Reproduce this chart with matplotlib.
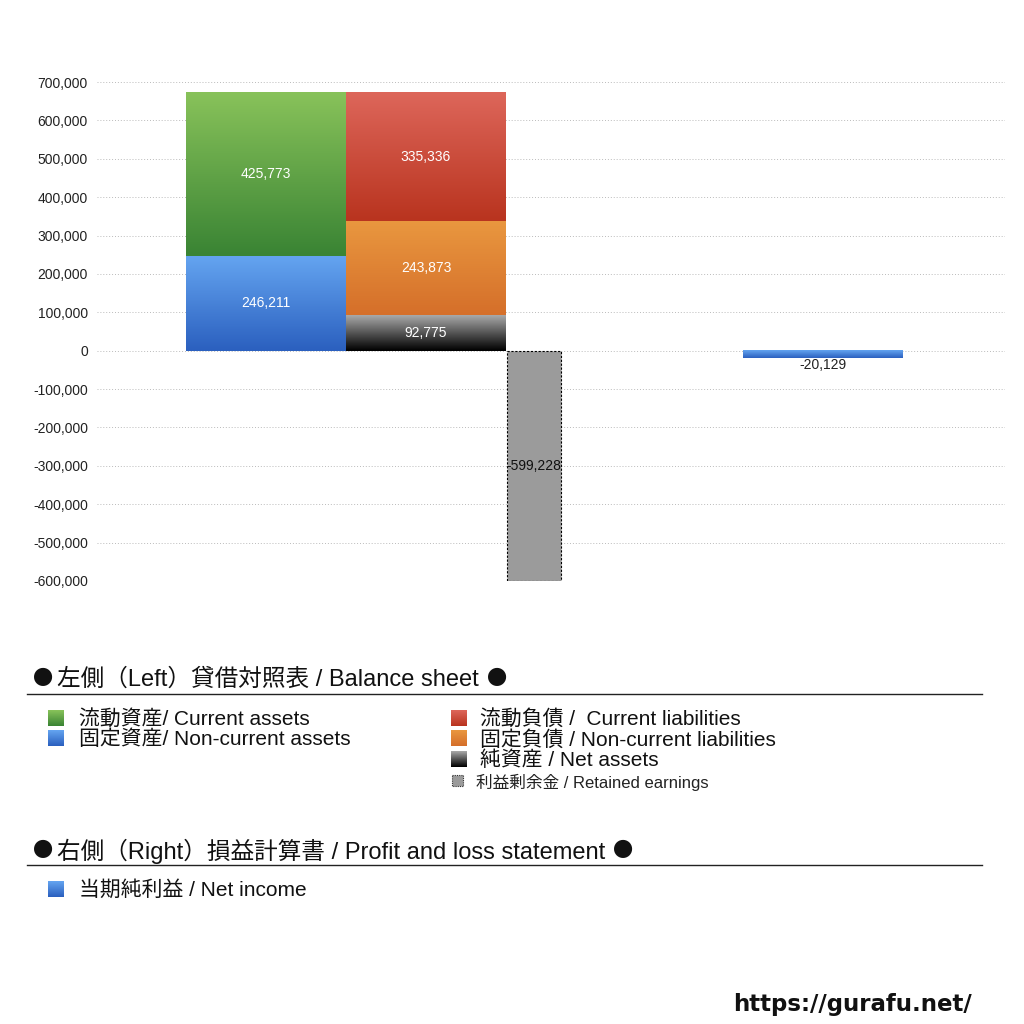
import matplotlib
matplotlib.use("Agg")
import matplotlib.pyplot as plt
import matplotlib.ticker as mticker
from matplotlib.colors import LinearSegmentedColormap
from matplotlib.patches import Rectangle
import numpy as np

# 欧文は Liberation Sans、和文は Noto Sans CJK JP にフォールバック
plt.rcParams['font.family'] = ['Liberation Sans', 'Noto Sans CJK JP', 'DejaVu Sans']
CJK = ['Noto Sans CJK JP', 'DejaVu Sans']

# --- データ ---
assets_names = ['固定資産', '流動資産']
assets_values = [246211, 425773]
liab_names = ['純資産', '固定負債', '流動負債']
liab_values = [92775, 243873, 335336]
retained_earnings = -599228
net_income = -20129

yticks = list(range(-600000, 700001, 100000))

# グラデーション (上, 下)
grad_green = ('#88c25a', '#3a8434')
grad_blue = ('#64a4f0', '#2b60bf')
grad_red = ('#dd665a', '#b9341f')
grad_orange = ('#e9973f', '#d56f2a')
grad_black = ('#a8a8a8', '#000000')
grey_fill = '#9b9b9b'

# 棒の位置 (軸の左端からの 100px 単位)
x_assets, x_liab, x_retained, x_income = 1.69, 3.29, 4.37, 7.26
w_wide, w_narrow = 1.60, 0.54

fig = plt.figure(figsize=(10.24, 10.24), dpi=100)
ax = fig.add_axes([97 / 1024, 443 / 1024, 908 / 1024, 499 / 1024])


def fill_gradient(a, patch, colors, z=2):
    x, y = patch.get_x(), patch.get_y()
    w, h = patch.get_width(), patch.get_height()
    cmap = LinearSegmentedColormap.from_list('g', [colors[1], colors[0]])
    img = np.linspace(0, 1, 64).reshape(-1, 1)
    y0, y1 = min(y, y + h), max(y, y + h)
    a.imshow(img, cmap=cmap, aspect='auto', origin='lower',
             extent=(x, x + w, y0, y1), zorder=z, interpolation='bicubic')
    patch.set_visible(False)


bar_fs = 10

# 左側: 資産
bottom = 0
for name, val, grad in zip(assets_names, assets_values, [grad_blue, grad_green]):
    bars = ax.bar(x_assets, val, width=w_wide, bottom=bottom)
    fill_gradient(ax, bars[0], grad)
    ax.text(x_assets, bottom + val / 2, f'{val:,}', ha='center', va='center',
            fontsize=bar_fs, color='white', zorder=5)
    bottom += val

# 負債・純資産
bottom = 0
for name, val, grad in zip(liab_names, liab_values, [grad_black, grad_orange, grad_red]):
    bars = ax.bar(x_liab, val, width=w_wide, bottom=bottom)
    fill_gradient(ax, bars[0], grad)
    ax.text(x_liab, bottom + val / 2, f'{val:,}', ha='center', va='center',
            fontsize=bar_fs, color='white', zorder=5)
    bottom += val

# 利益剰余金
ax.bar(x_retained, retained_earnings, width=w_narrow, color=grey_fill,
       edgecolor='black', linestyle=(0, (2, 1.5)), linewidth=0.8, zorder=3)
ax.text(x_retained, retained_earnings / 2, f'{retained_earnings:,}',
        ha='center', va='center', fontsize=bar_fs, color='#111111', zorder=5)

# 右側: 当期純利益
bars = ax.bar(x_income, net_income, width=w_wide)
fill_gradient(ax, bars[0], grad_blue)
ax.text(x_income, net_income, f'{net_income:,}', ha='center', va='top',
        fontsize=bar_fs, color='#222222', zorder=5)

ax.set_xlim(0, 9.08)
ax.set_ylim(-600000, 700000)
ax.set_yticks(yticks)
ax.yaxis.set_major_formatter(mticker.FuncFormatter(lambda v, p: f'{int(v):,}'))
ax.tick_params(axis='y', length=0, labelsize=10, pad=6.5, labelcolor='#222222')
ax.set_xticks([])
for s in ax.spines.values():
    s.set_visible(False)
ax.grid(axis='y', color='#bbbbbb', linestyle=(0, (1, 2)), linewidth=0.7, zorder=0)
ax.set_axisbelow(True)

# --- 凡例エリア (ピクセル座標) ---
lg = fig.add_axes([0, 0, 1, 1])
lg.set_xlim(0, 1024)
lg.set_ylim(1024, 0)
lg.axis('off')
lg.patch.set_alpha(0)
renderer = fig.canvas.get_renderer()


def swatch(x, y, size, colors=None, face=None, dashed=False):
    if colors is not None:
        cmap = LinearSegmentedColormap.from_list('s', [colors[0], colors[1]])
        img = np.linspace(0, 1, 32).reshape(-1, 1)
        lg.imshow(img, cmap=cmap, aspect='auto', extent=(x, x + size, y + size, y), zorder=2)
    else:
        lg.add_patch(Rectangle((x, y), size, size, facecolor=face,
                               edgecolor='#333333' if dashed else face,
                               linestyle=(0, (1, 1)) if dashed else '-', linewidth=0.8, zorder=2))


heading_fs = 17
bullet_fs = 14.5
item_fs = 15


def heading(y, label):
    lg.text(33, y, '●', fontsize=bullet_fs, va='center', ha='left', color='#111111', family=CJK)
    t = lg.text(57, y, label, fontsize=heading_fs, va='center', ha='left', color='#111111')
    bb = t.get_window_extent(renderer=renderer)
    x_end = lg.transData.inverted().transform((bb.x1, bb.y0))[0]
    lg.text(x_end + 8, y, '●', fontsize=bullet_fs, va='center', ha='left',
            color='#111111', family=CJK)


heading(680, '左側（Left）貸借対照表 / Balance sheet')
lg.plot([27, 982], [694, 694], color='#222222', linewidth=1)

left_items = [(grad_green, '流動資産/ Current assets'),
              (grad_blue, '固定資産/ Non-current assets')]
right_items = [(grad_red, '流動負債 /  Current liabilities'),
               (grad_orange, '固定負債 / Non-current liabilities'),
               (grad_black, '純資産 / Net assets')]
for i, (g, lab) in enumerate(left_items):
    yy = 719 + i * 20.5
    swatch(48, yy - 9, 16, colors=g)
    lg.text(79, yy, lab, fontsize=item_fs, va='center', ha='left', color='#111111')
for i, (g, lab) in enumerate(right_items):
    yy = 719 + i * 20.5
    swatch(451, yy - 9, 16, colors=g)
    lg.text(480, yy, lab, fontsize=item_fs, va='center', ha='left', color='#111111')
swatch(452, 775, 11, face=grey_fill, dashed=True)
lg.text(476, 782, '利益剰余金 / Retained earnings', fontsize=12, va='center', ha='left',
        color='#222222')

heading(851, '右側（Right）損益計算書 / Profit and loss statement')
lg.plot([27, 982], [865, 865], color='#222222', linewidth=1)
swatch(48, 881, 16, colors=grad_blue)
lg.text(79, 890, '当期純利益 / Net income', fontsize=item_fs, va='center', ha='left', color='#111111')

lg.text(972, 1004, 'https://gurafu.net/', fontsize=16.5, fontweight='bold', va='center',
        ha='right', color='#111111', family=['DejaVu Sans'])

fig.savefig('out.png', dpi=100)
